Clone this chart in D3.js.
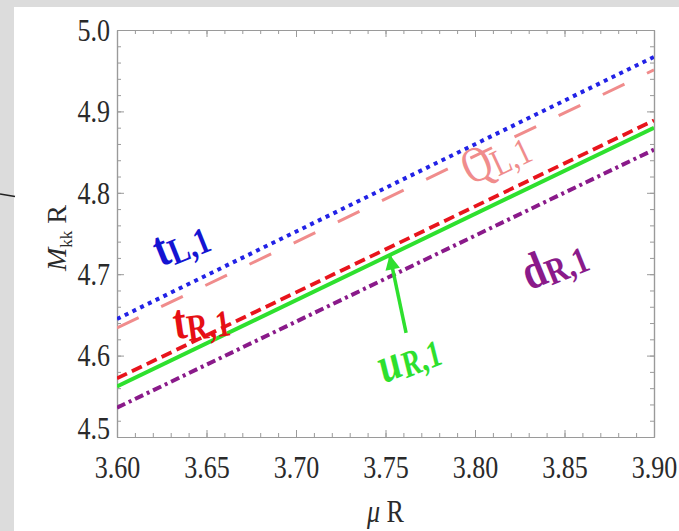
<!DOCTYPE html>
<html>
<head>
<meta charset="utf-8">
<script src="https://cdn.jsdelivr.net/npm/d3@7/dist/d3.min.js"></script>
<style>
  html, body { margin: 0; padding: 0; background: #dcdcdc; }
  svg { display: block; font-family: "Liberation Serif", "DejaVu Serif", serif; }
</style>
</head>
<body>
<svg id="chart" width="679" height="531"></svg>
<script>
// Scan range of the mass parameter and the computed KK masses at its ends
const muR = [3.60, 3.90];
const tL1 = [4.645, 4.967];
const QL1 = [4.634, 4.951];
const tR1 = [4.572, 4.889];
const uR1 = [4.562, 4.880];
const dR1 = [4.536, 4.853];

const xMajor = [3.60, 3.65, 3.70, 3.75, 3.80, 3.85, 3.90];
const yMajor = [4.5, 4.6, 4.7, 4.8, 4.9, 5.0];
const xMinor = d3.range(0, 31).map(i => +(3.60 + i * 0.01).toFixed(2));
const yMinor = d3.range(0, 26).map(i => +(4.5 + i * 0.02).toFixed(2));

const series = [
  { name: "tL1", values: tL1, color: "#2222e6", width: 4,   dash: "4,4.6" },
  { name: "QL1", values: QL1, color: "#f08c8c", width: 3,   dash: "24,25" },
  { name: "tR1", values: tR1, color: "#e8141c", width: 3.8, dash: "11,5.5" },
  { name: "uR1", values: uR1, color: "#2ee02e", width: 4,   dash: null },
  { name: "dR1", values: dR1, color: "#8a1a8a", width: 4,   dash: "9,4,3,4" }
];

// Curve labels: main letter, subscript, anchor in data units, rotation
const labels = [
  { main: "t", sub: "L,1", x: 3.6245, y: 4.709, rot: -22, color: "#1414d2", weight: "bold", style: "normal" },
  { main: "t", sub: "R,1", x: 3.6325, y: 4.620, rot: -8,  color: "#e60f14", weight: "bold", style: "normal" },
  { main: "Q", sub: "L,1", x: 3.7975, y: 4.809, rot: -25, color: "#f08c8c", weight: "normal", style: "normal" },
  { main: "d", sub: "R,1", x: 3.8305, y: 4.680, rot: -22, color: "#8a1a8a", weight: "bold", style: "normal" },
  { main: "u", sub: "R,1", x: 3.7495, y: 4.566, rot: -22, color: "#2ee02e", weight: "bold", style: "italic" }
];
const arrowFrom = { x: 3.7615, y: 4.628 };
const arrowTo   = { x: 3.7525, y: 4.722 };

const svg = d3.select("#chart");
const W = 679, H = 531;

// page background and white panel
svg.append("rect").attr("width", W).attr("height", H).attr("fill", "#dcdcdc");
svg.append("rect").attr("x", 14).attr("y", 7).attr("width", W - 14).attr("height", H - 7).attr("fill", "#ffffff");

// short rule at the left edge
svg.append("path").attr("d", "M0,194 L15,196.5")
  .attr("stroke", "#222").attr("stroke-width", 1.3).attr("fill", "none");

const pLeft = 117, pRight = 654, pTop = 30, pBottom = 437;
const x = d3.scaleLinear().domain([3.60, 3.90]).range([pLeft, pRight]);
const y = d3.scaleLinear().domain([4.5, 5.0]).range([pBottom, pTop]);

const font = "Liberation Serif";
const axisColor = "#9a9a9a";
const sx = 0.93, sy = 1.15;   // narrow, tall lettering of the tick labels

function styleAxis(g) {
  g.attr("font-family", font);
  g.select(".domain").attr("stroke", axisColor).attr("stroke-width", 1.2);
  g.selectAll(".tick line").attr("stroke", axisColor).attr("stroke-width", 1);
  g.selectAll(".tick text").attr("fill", "#2a2a2a").attr("font-size", 28);
}

// minor ticks on all four sides
svg.append("g").attr("transform", `translate(0,${pBottom})`)
  .call(d3.axisBottom(x).tickValues(xMinor).tickSizeInner(-4).tickSizeOuter(0).tickFormat(""))
  .call(styleAxis);
svg.append("g").attr("transform", `translate(0,${pTop})`)
  .call(d3.axisTop(x).tickValues(xMinor).tickSizeInner(-4).tickSizeOuter(0).tickFormat(""))
  .call(styleAxis);
svg.append("g").attr("transform", `translate(${pLeft},0)`)
  .call(d3.axisLeft(y).tickValues(yMinor).tickSizeInner(-4).tickSizeOuter(0).tickFormat(""))
  .call(styleAxis);
svg.append("g").attr("transform", `translate(${pRight},0)`)
  .call(d3.axisRight(y).tickValues(yMinor).tickSizeInner(-4).tickSizeOuter(0).tickFormat(""))
  .call(styleAxis);

// major ticks with labels on bottom and left
const xAx = svg.append("g").attr("transform", `translate(0,${pBottom})`)
  .call(d3.axisBottom(x).tickValues(xMajor).tickSizeInner(-7).tickSizeOuter(0)
    .tickPadding(19).tickFormat(d3.format(".2f")))
  .call(styleAxis);
xAx.selectAll(".tick text").attr("transform", `scale(${sx},${sy})`).attr("y", 18 / sy);

svg.append("g").attr("transform", `translate(0,${pTop})`)
  .call(d3.axisTop(x).tickValues(xMajor).tickSizeInner(-7).tickSizeOuter(0).tickFormat(""))
  .call(styleAxis);
const yAx = svg.append("g").attr("transform", `translate(${pLeft},0)`)
  .call(d3.axisLeft(y).tickValues(yMajor).tickSizeInner(-7).tickSizeOuter(0)
    .tickPadding(6).tickFormat(d3.format(".1f")))
  .call(styleAxis);
yAx.selectAll(".tick text").attr("transform", `scale(${sx},${sy})`).attr("x", -7 / sx);
// the lowest label sits slightly above its tick
yAx.selectAll(".tick text").filter(d => d === 4.5).attr("dy", "0.05em");
svg.append("g").attr("transform", `translate(${pRight},0)`)
  .call(d3.axisRight(y).tickValues(yMajor).tickSizeInner(-7).tickSizeOuter(0).tickFormat(""))
  .call(styleAxis);

// curves
svg.append("clipPath").attr("id", "plotClip").append("rect")
  .attr("x", pLeft).attr("y", pTop).attr("width", pRight - pLeft).attr("height", pBottom - pTop);

const line = d3.line().x(d => x(d[0])).y(d => y(d[1]));
svg.append("g").attr("clip-path", "url(#plotClip)")
  .selectAll("path").data(series).join("path")
  .attr("d", s => line(muR.map((m, i) => [m, s.values[i]])))
  .attr("fill", "none")
  .attr("stroke", s => s.color)
  .attr("stroke-width", s => s.width)
  .attr("stroke-dasharray", s => s.dash);

// curve labels
const lab = svg.append("g").selectAll("text").data(labels).join("text")
  .attr("transform", d => `translate(${x(d.x)},${y(d.y)}) rotate(${d.rot}) scale(0.95,1.2)`)
  .attr("fill", d => d.color)
  .attr("font-family", font)
  .attr("font-weight", d => d.weight)
  .attr("font-style", d => d.style);
lab.append("tspan").attr("font-size", 42).text(d => d.main);
lab.append("tspan").attr("font-size", 31).attr("dy", 3).text(d => d.sub);

// arrow pointing to the solid curve
const defs = svg.append("defs");
defs.append("marker").attr("id", "arrowHead")
  .attr("viewBox", "0 0 10 10").attr("refX", 9).attr("refY", 5)
  .attr("markerWidth", 5).attr("markerHeight", 4.2).attr("orient", "auto")
  .append("path").attr("d", "M0,0 L10,5 L0,10 Z").attr("fill", "#2ee02e");
svg.append("line")
  .attr("x1", x(arrowFrom.x)).attr("y1", y(arrowFrom.y))
  .attr("x2", x(arrowTo.x)).attr("y2", y(arrowTo.y))
  .attr("stroke", "#2ee02e").attr("stroke-width", 3.5)
  .attr("marker-end", "url(#arrowHead)");

// axis titles
svg.append("text")
  .attr("transform", `translate(${(pLeft + pRight) / 2},522) scale(${sx},${sy})`)
  .attr("text-anchor", "middle").attr("fill", "#2a2a2a")
  .attr("font-family", font).attr("font-size", 28)
  .call(t => {
    t.append("tspan").attr("font-style", "italic").text("μ");
    t.append("tspan").text(" R");
  });

svg.append("text")
  .attr("transform", `translate(66,238) rotate(-90) scale(1,0.95)`)
  .attr("text-anchor", "middle").attr("fill", "#2a2a2a")
  .attr("font-family", font).attr("font-size", 28)
  .call(t => {
    t.append("tspan").attr("font-style", "italic").text("M");
    t.append("tspan").attr("font-size", 17).attr("dy", 6).text("kk");
    t.append("tspan").attr("dy", -6).text(" R");
  });
</script>
</body>
</html>
